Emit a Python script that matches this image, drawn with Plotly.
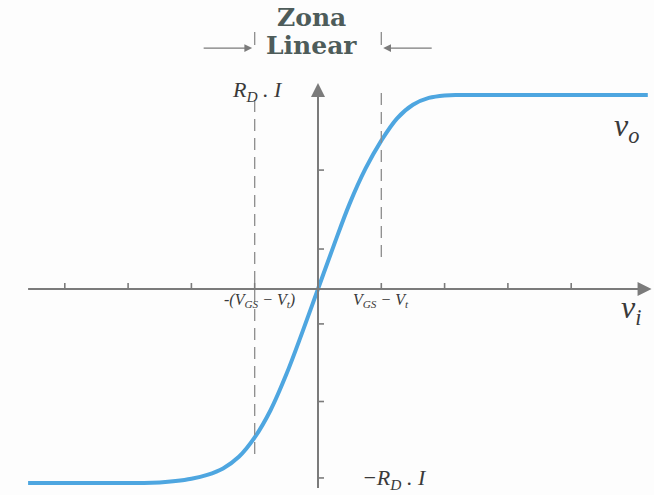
import plotly.graph_objects as go

# Transfer characteristic v_o(v_i) of the differential pair.
# x in units of (V_GS - V_t), y normalised to R_D.I
vi = [-4.58, -3.5, -2.75, -2.5, -2.25, -2.0, -1.75, -1.5, -1.25, -1.0, -0.75, -0.5, -0.25,
      0.0, 0.25, 0.5, 0.75, 1.0, 1.25, 1.5, 1.75, 2.0, 2.25, 3.0, 4.0, 5.21]
vo = [-1.0, -1.0, -1.0, -0.997, -0.99, -0.978, -0.958, -0.925, -0.865, -0.765, -0.625, -0.44, -0.225,
      0.0, 0.225, 0.44, 0.62, 0.765, 0.88, 0.95, 0.985, 0.998, 1.0, 1.0, 1.0, 1.0]

x_ticks = [-4, -3, -2, -1, 1, 2, 3, 4]
y_ticks = [0.613, 0.206, -0.18, -0.58, -0.974]

AXIS = "#7b7b7b"
DASH = "#8c8c8c"
INK = "#3a3a3a"
TITLE = "#4e5c5a"
CURVE = "#4ea6e0"
SERIF = "Times New Roman, Liberation Serif"
TITLE_FONT = "DejaVu Serif"

fig = go.Figure()

fig.add_trace(go.Scatter(
    x=vi, y=vo, mode="lines",
    line=dict(color=CURVE, width=4, shape="spline", smoothing=1.0),
    hoverinfo="skip", showlegend=False,
))

shapes = []
# axis lines
shapes.append(dict(type="line", xref="x", yref="y", x0=-4.58, x1=5.1, y0=0, y1=0,
                   line=dict(color=AXIS, width=2)))
shapes.append(dict(type="line", xref="x", yref="y", x0=0, x1=0, y0=-1.026, y1=0.98,
                   line=dict(color=AXIS, width=2)))
# tick marks on the horizontal axis (pointing up)
for t in x_ticks:
    shapes.append(dict(type="line", xref="x", yref="y", ysizemode="pixel", yanchor=0,
                       x0=t, x1=t, y0=0, y1=6, line=dict(color=AXIS, width=1.6)))
# tick marks on the vertical axis (pointing right)
for t in y_ticks:
    shapes.append(dict(type="line", xref="x", yref="y", xsizemode="pixel", xanchor=0,
                       x0=0, x1=6, y0=t, y1=t, line=dict(color=AXIS, width=1.6)))
# limits of the linear region
shapes.append(dict(type="line", xref="x", yref="y", x0=-1, x1=-1, y0=0.974, y1=-0.856,
                   line=dict(color=DASH, width=1.3, dash="12px,7px")))
shapes.append(dict(type="line", xref="x", yref="y", x0=1, x1=1, y0=1.01, y1=0.139,
                   line=dict(color=DASH, width=1.3, dash="12px,7px")))
for s in (-1, 1):
    shapes.append(dict(type="line", xref="x", yref="y", x0=s, x1=s, y0=1.325, y1=1.258,
                       line=dict(color=DASH, width=1.3)))

annotations = []
# axis arrowheads
annotations.append(dict(x=5.27, y=0, ax=4.9, ay=0, xref="x", yref="y", axref="x", ayref="y",
                        text="", showarrow=True, arrowhead=2, arrowsize=1.4,
                        arrowwidth=2, arrowcolor=AXIS, standoff=0))
annotations.append(dict(x=0, y=1.062, ax=0, ay=0.9, xref="x", yref="y", axref="x", ayref="y",
                        text="", showarrow=True, arrowhead=2, arrowsize=1.4,
                        arrowwidth=2, arrowcolor=AXIS, standoff=0))
# arrows bounding the linear zone
annotations.append(dict(x=-1.04, y=1.242, ax=-1.83, ay=1.242, xref="x", yref="y",
                        axref="x", ayref="y", text="", showarrow=True, arrowhead=2,
                        arrowsize=1.2, arrowwidth=1.3, arrowcolor=AXIS, standoff=0))
annotations.append(dict(x=1.03, y=1.242, ax=1.82, ay=1.242, xref="x", yref="y",
                        axref="x", ayref="y", text="", showarrow=True, arrowhead=2,
                        arrowsize=1.2, arrowwidth=1.3, arrowcolor=AXIS, standoff=0))

def label(text, x, y, size, color=INK, family=SERIF):
    annotations.append(dict(x=x, y=y, xref="x", yref="y", text=text, showarrow=False,
                            xanchor="center", yanchor="middle",
                            font=dict(family=family, size=size, color=color)))

label("<b>Zona</b>", -0.095, 1.40, 25, TITLE, TITLE_FONT)
label("<b>Linear</b>", -0.095, 1.255, 25, TITLE, TITLE_FONT)
label("<i>R<sub>D</sub> . I</i>", -0.96, 1.02, 22)
label("<i>−R<sub>D</sub> . I</i>", 1.21, -0.98, 22)
label("<i>v<sub>o</sub></i>", 4.88, 0.83, 32)
label("<i>v<sub>i</sub></i>", 4.95, -0.105, 32)
label("<i>-(V<sub>GS</sub> − V<sub>t</sub>)</i>", -0.92, -0.06, 16)
label("<i>V<sub>GS</sub> − V<sub>t</sub></i>", 1.0, -0.06, 16)

fig.update_layout(
    width=654, height=495, autosize=False,
    margin=dict(l=0, r=0, t=0, b=0),
    paper_bgcolor="#fdfdfd", plot_bgcolor="#fdfdfd",
    xaxis=dict(range=[-5.0237, 5.308], visible=False, fixedrange=True),
    yaxis=dict(range=[-1.0619, 1.4897], visible=False, fixedrange=True),
    shapes=shapes, annotations=annotations, showlegend=False,
)

fig.write_html("out.html")
